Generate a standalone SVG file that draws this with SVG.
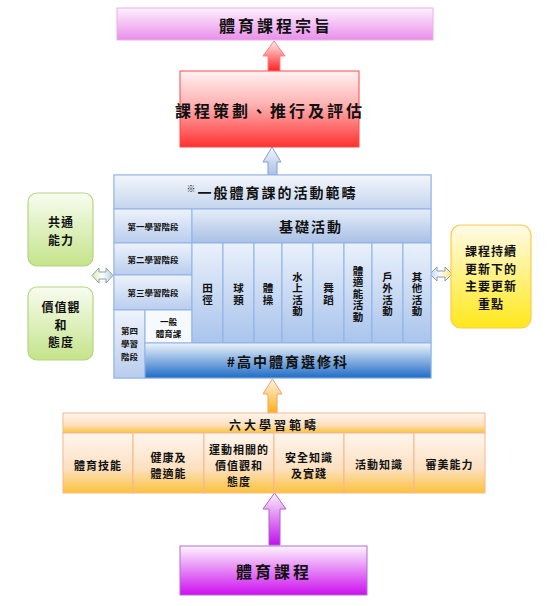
<svg xmlns="http://www.w3.org/2000/svg" width="554" height="606" viewBox="0 0 554 606">
<defs>
<linearGradient id="gPink" x1="0" y1="0" x2="0" y2="1"><stop offset="0" stop-color="#fdf2fd"/><stop offset="1" stop-color="#e98ee9"/></linearGradient>
<linearGradient id="gRed" x1="0" y1="0" x2="0" y2="1"><stop offset="0" stop-color="#fff2f2"/><stop offset="0.45" stop-color="#ffb0b0"/><stop offset="1" stop-color="#ff3030"/></linearGradient>
<linearGradient id="gRedArrow" x1="0" y1="0" x2="0" y2="1"><stop offset="0" stop-color="#fff0f0"/><stop offset="1" stop-color="#ff2020"/></linearGradient>
<linearGradient id="gBlueHead" x1="0" y1="0" x2="0" y2="1"><stop offset="0" stop-color="#f4f7fc"/><stop offset="1" stop-color="#c4d4ee"/></linearGradient>
<linearGradient id="gBlueRow" x1="0" y1="0" x2="0" y2="1"><stop offset="0" stop-color="#e6edf8"/><stop offset="1" stop-color="#a9c0e6"/></linearGradient>
<linearGradient id="gBlueCell" x1="0" y1="0" x2="0" y2="1"><stop offset="0" stop-color="#eef3fb"/><stop offset="1" stop-color="#b9cdee"/></linearGradient>
<linearGradient id="gBlueCol" x1="0" y1="0" x2="0" y2="1"><stop offset="0" stop-color="#eaf1fb"/><stop offset="1" stop-color="#a9c4ec"/></linearGradient>
<linearGradient id="gBlueDark" x1="0" y1="0" x2="0" y2="1"><stop offset="0" stop-color="#eef4fb"/><stop offset="1" stop-color="#1f6cc6"/></linearGradient>
<linearGradient id="gBlueArrow" x1="0" y1="0" x2="0" y2="1"><stop offset="0" stop-color="#f2f6fc"/><stop offset="1" stop-color="#a9c0e4"/></linearGradient>
<linearGradient id="gOrange" x1="0" y1="0" x2="0" y2="1"><stop offset="0" stop-color="#fff6ee"/><stop offset="0.6" stop-color="#fce0c0"/><stop offset="1" stop-color="#fdc13a"/></linearGradient>
<linearGradient id="gOrangeArrow" x1="0" y1="0" x2="0" y2="1"><stop offset="0" stop-color="#fff4ea"/><stop offset="1" stop-color="#ffb010"/></linearGradient>
<linearGradient id="gPurple" x1="0" y1="0" x2="0" y2="1"><stop offset="0" stop-color="#fdf4fe"/><stop offset="1" stop-color="#cc10ee"/></linearGradient>
<linearGradient id="gPurpleArrow" x1="0" y1="0" x2="0" y2="1"><stop offset="0" stop-color="#fbf2fd"/><stop offset="1" stop-color="#c010e8"/></linearGradient>
<linearGradient id="gGreen" x1="0" y1="0" x2="0" y2="1"><stop offset="0" stop-color="#f8fcf0"/><stop offset="1" stop-color="#c4e48a"/></linearGradient>
<linearGradient id="gYellow" x1="0" y1="0" x2="0" y2="1"><stop offset="0" stop-color="#fffbe8"/><stop offset="1" stop-color="#ffe81a"/></linearGradient>
<linearGradient id="gDblL" x1="0" y1="0" x2="1" y2="0"><stop offset="0" stop-color="#d8edb0"/><stop offset="0.5" stop-color="#ffffff"/><stop offset="1" stop-color="#b8cce8"/></linearGradient>
<linearGradient id="gDblR" x1="0" y1="0" x2="1" y2="0"><stop offset="0" stop-color="#c4d4ee"/><stop offset="0.5" stop-color="#ffffff"/><stop offset="1" stop-color="#ffe070"/></linearGradient>
</defs>
<style>
text{font-family:"Noto Sans CJK TC","Noto Sans CJK SC",sans-serif;font-weight:bold;fill:#111;text-anchor:middle;dominant-baseline:central}
.t16{font-size:16px;letter-spacing:3px}
.t14{font-size:14px;letter-spacing:2px}
.t12{font-size:12px;letter-spacing:1px}
.t11{font-size:11px;letter-spacing:1px}
.tv{font-size:10.5px;letter-spacing:1px;writing-mode:vertical-rl}
.t9{font-size:8.5px}
.cell{stroke:#8fb2e6;stroke-width:1}
.ocell{stroke:#f4b890;stroke-width:1}
</style>

<g id="connectors">
<path d="M263,56 L274,41 L285,56 L280,56 L280,71 L268,71 L268,56 Z" fill="url(#gRedArrow)" stroke="#ff8080" stroke-width="1"/>
<path d="M263,162 L272,147 L281,162 L277,162 L277,175 L268,175 L268,162 Z" fill="url(#gBlueArrow)" stroke="#7fa0d0" stroke-width="1"/>
<path d="M263,394 L272.5,379 L282,394 L277,394 L277,413 L268,413 L268,394 Z" fill="url(#gOrangeArrow)" stroke="#f0a070" stroke-width="1"/>
<path d="M263,509 L274.5,493 L286,509 L280,509 L280,545 L269,545 L269,509 Z" fill="url(#gPurpleArrow)" stroke="#b060d0" stroke-width="1"/>
<path d="M92,275.5 L99,268 L99,272 L106,272 L106,268 L113,275.5 L106,283 L106,279 L99,279 L99,283 Z" fill="url(#gDblL)" stroke="#8aa0a0" stroke-width="1"/>
<path d="M430,274 L437,267 L437,271 L445,271 L445,267 L452,274 L445,281 L445,277 L437,277 L437,281 Z" fill="url(#gDblR)" stroke="#8a9ab0" stroke-width="1"/>
</g>

<g id="aim">
<rect x="117" y="8" width="316" height="32" fill="url(#gPink)" stroke="#e8b0e8" stroke-width="1"/>
<text class="t16" x="276" y="25">體育課程宗旨</text>
</g>

<g id="planning">
<rect x="180" y="71" width="179" height="76" fill="url(#gRed)" stroke="#ff4a4a" stroke-width="1"/>
<text class="t16" x="270" y="110">課程策劃、推行及評估</text>
</g>

<g id="general-pe">
<rect x="114" y="175" width="317" height="203" fill="#ffffff" stroke="#9dbde8" stroke-width="1"/>
<rect class="cell" x="114" y="175" width="317" height="34" fill="url(#gBlueHead)"/>
<text class="t14" x="272" y="192"><tspan font-size="9" dy="-4">※</tspan><tspan dy="4">一般體育課的活動範疇</tspan></text>
<rect class="cell" x="114" y="209" width="78" height="34" fill="url(#gBlueCell)"/>
<text class="t9" x="153" y="226">第一學習階段</text>
<rect class="cell" x="192" y="209" width="239" height="34" fill="url(#gBlueRow)" stroke="#6fb4f0"/>
<text class="t14" x="311" y="226">基礎活動</text>
<rect class="cell" x="114" y="243" width="78" height="32" fill="url(#gBlueCell)"/>
<text class="t9" x="153" y="259">第二學習階段</text>
<rect class="cell" x="114" y="275" width="78" height="35" fill="url(#gBlueCell)"/>
<text class="t9" x="153" y="292">第三學習階段</text>
<rect class="cell" x="114" y="310" width="31" height="68" fill="url(#gBlueCell)"/>
<text class="t9" x="129.5" y="330">第四<tspan x="129.5" dy="13">學習</tspan><tspan x="129.5" dy="13">階段</tspan></text>
<rect class="cell" x="145" y="310" width="47" height="33" fill="#f6f9fd"/>
<text class="t9" x="168.5" y="320.5">一般<tspan x="168.5" dy="12.5">體育課</tspan></text>
<rect class="cell" x="192" y="243" width="31" height="100" fill="url(#gBlueCol)"/>
<rect class="cell" x="223" y="243" width="31" height="100" fill="url(#gBlueCol)"/>
<rect class="cell" x="254" y="243" width="28" height="100" fill="url(#gBlueCol)"/>
<rect class="cell" x="282" y="243" width="31" height="100" fill="url(#gBlueCol)"/>
<rect class="cell" x="313" y="243" width="31" height="100" fill="url(#gBlueCol)"/>
<rect class="cell" x="344" y="243" width="28" height="100" fill="url(#gBlueCol)"/>
<rect class="cell" x="372" y="243" width="31" height="100" fill="url(#gBlueCol)"/>
<rect class="cell" x="403" y="243" width="28" height="100" fill="url(#gBlueCol)"/>
<text class="tv" x="207.5" y="294.5">田徑</text>
<text class="tv" x="238.5" y="294.5">球類</text>
<text class="tv" x="268" y="294.5">體操</text>
<text class="tv" x="297.5" y="294.5">水上活動</text>
<text class="tv" x="328.5" y="294.5">舞蹈</text>
<text class="tv" x="358" y="294.5">體適能活動</text>
<text class="tv" x="387.5" y="294.5">戶外活動</text>
<text class="tv" x="417" y="294.5">其他活動</text>
<rect class="cell" x="145" y="343" width="286" height="35" fill="url(#gBlueDark)"/>
<text class="t14" x="288" y="361">#高中體育選修科</text>
</g>

<g id="generic-skills">
<rect x="28" y="193" width="65" height="73" rx="9" fill="url(#gGreen)" stroke="#b4d680" stroke-width="1.2"/>
<text class="t12" x="61" y="221">共通<tspan x="61" dy="17.5">能力</tspan></text>
</g>

<g id="values">
<rect x="28" y="287" width="65" height="73" rx="9" fill="url(#gGreen)" stroke="#b4d680" stroke-width="1.2"/>
<text class="t12" x="61" y="306">價值觀<tspan x="61" dy="17.5">和</tspan><tspan x="61" dy="17.5">態度</tspan></text>
</g>

<g id="focus">
<rect x="451" y="225" width="80" height="103" rx="10" fill="url(#gYellow)" stroke="#f8cc50" stroke-width="1.2"/>
<text class="t12" x="491" y="250">課程持續<tspan x="491" dy="17.5">更新下的</tspan><tspan x="491" dy="17.5">主要更新</tspan><tspan x="491" dy="17.5">重點</tspan></text>
</g>

<g id="six-strands">
<rect class="ocell" x="63" y="413" width="422" height="20" fill="url(#gOrange)"/>
<text class="t12" x="274" y="424" style="letter-spacing:3px">六大學習範疇</text>
<rect class="ocell" x="63" y="433" width="70" height="60" fill="url(#gOrange)"/>
<rect class="ocell" x="133" y="433" width="71" height="60" fill="url(#gOrange)"/>
<rect class="ocell" x="204" y="433" width="70" height="60" fill="url(#gOrange)"/>
<rect class="ocell" x="274" y="433" width="70" height="60" fill="url(#gOrange)"/>
<rect class="ocell" x="344" y="433" width="70" height="60" fill="url(#gOrange)"/>
<rect class="ocell" x="414" y="433" width="71" height="60" fill="url(#gOrange)"/>
<text class="t11" x="98" y="465">體育技能</text>
<text class="t11" x="168.5" y="456.5">健康及<tspan x="168.5" dy="16">體適能</tspan></text>
<text class="t11" x="239" y="449">運動相關的<tspan x="239" dy="16">價值觀和</tspan><tspan x="239" dy="16">態度</tspan></text>
<text class="t11" x="309" y="456.5">安全知識<tspan x="309" dy="16">及實踐</tspan></text>
<text class="t11" x="379" y="464">活動知識</text>
<text class="t11" x="449.5" y="464">審美能力</text>
</g>

<g id="pe-curriculum">
<rect x="180" y="546" width="187" height="49" fill="url(#gPurple)" stroke="#b070d0" stroke-width="1"/>
<text class="t16" x="274" y="571">體育課程</text>
</g>
</svg>
